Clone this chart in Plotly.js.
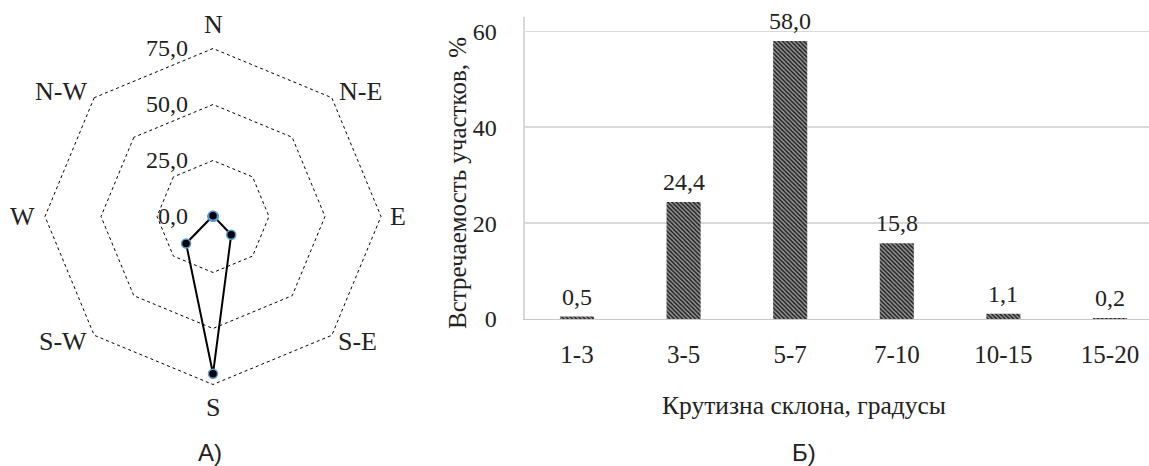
<!DOCTYPE html>
<html>
<head>
<meta charset="utf-8">
<script src="https://cdn.plot.ly/plotly-3.0.1.min.js"></script>
<style>html,body{margin:0;padding:0;background:#fff;}#chart{width:1149px;height:466px;}</style>
</head>
<body>
<div id="chart"></div>
<script>
// Radar (A): exposure directions
const directions = ["N", "N-E", "E", "S-E", "S", "S-W", "W", "N-W"];
const directionValues = [0.3, 0.2, 0.4, 11.5, 70.2, 17.0, 0.3, 0.1];
const radialTicks = [0, 25, 50, 75];

// Bar (Б): slope steepness
const slopeCategories = ["1-3", "3-5", "5-7", "7-10", "10-15", "15-20"];
const slopeValues = [0.5, 24.4, 58.0, 15.8, 1.1, 0.2];
const barTicks = [0, 20, 40, 60];

const serif = "Liberation Serif, Times New Roman, serif";
const sans = "Liberation Sans, Arial, sans-serif";
const W = 1149, H = 466;

const radarTrace = {
  type: "scatterpolar",
  r: directionValues.concat([directionValues[0]]),
  theta: directions.concat([directions[0]]),
  mode: "lines+markers",
  line: {color: "#000", width: 2},
  marker: {color: "#000", size: 9, line: {color: "#5B9BD5", width: 1.5}},
  subplot: "polar",
  showlegend: false,
  hoverinfo: "r+theta"
};

const barTrace = {
  type: "bar",
  x: slopeCategories,
  y: slopeValues,
  width: 0.32,
  xaxis: "x",
  yaxis: "y",
  marker: {
    color: "#5a5a5a",
    pattern: {shape: "\\", size: 3, solidity: 0.5, fgcolor: "#1e1e1e", bgcolor: "#9a9a9a"},
    line: {width: 0}
  },
  showlegend: false
};

// value labels above bars, built from the data arrays
const valueLabels = slopeCategories.map((c, i) => ({
  text: slopeValues[i].toFixed(1).replace(".", ","),
  xref: "x", yref: "y", x: c, y: slopeValues[i],
  xanchor: "center", yanchor: "middle", yshift: 20,
  showarrow: false,
  font: {family: serif, size: 24, color: "#222"}
}));

// polar geometry (paper fractions) and direction label placement
const polarDomX = [0.03721, 0.33355], polarDomY = [0.17009, 0.90073];
const radialMax = 76, outerRing = 75;
const cxP = (polarDomX[0] + polarDomX[1]) / 2 * W;
const cyP = (polarDomY[0] + polarDomY[1]) / 2 * H;       // from bottom
const Rpx = (polarDomX[1] - polarDomX[0]) / 2 * W * outerRing / radialMax;
// offsets of label centres from each outer vertex, in px (right, down)
const labelOffsets = [[0, -23.5], [28.7, -5.7], [16.5, 0], [26, 6.7], [0, 22.5], [-31.7, 6.7], [-22, 0], [-33, -5.7]];
const directionLabels = directions.map((d, i) => {
  const a = (90 - 45 * i) * Math.PI / 180;
  const vx = cxP + Rpx * Math.cos(a);
  const vy = cyP + Rpx * Math.sin(a);
  return {
    text: d, xref: "paper", yref: "paper", x: vx / W, y: vy / H,
    xanchor: "center", yanchor: "middle",
    xshift: labelOffsets[i][0], yshift: -labelOffsets[i][1],
    showarrow: false,
    font: {family: serif, size: 26, color: "#222"}
  };
});

const layout = {
  width: W,
  height: H,
  margin: {l: 0, r: 0, t: 0, b: 0},
  paper_bgcolor: "#fff",
  plot_bgcolor: "#fff",
  separators: ", ",
  font: {family: serif, color: "#222"},
  polar: {
    domain: {x: polarDomX, y: polarDomY},
    gridshape: "linear",
    bgcolor: "#fff",
    radialaxis: {
      range: [0, radialMax],
      tickvals: radialTicks,
      tickformat: ".1f",
      angle: 90,
      side: "counterclockwise",
      tickangle: 90,
      showline: false,
      ticks: "outside",
      ticklen: 16,
      tickcolor: "rgba(0,0,0,0)",
      gridcolor: "#000",
      gridwidth: 1,
      griddash: "dot",
      tickfont: {family: serif, size: 24, color: "#222"}
    },
    angularaxis: {
      type: "category",
      categoryarray: directions,
      direction: "clockwise",
      rotation: 90,
      showgrid: false,
      showline: false,
      showticklabels: false,
      ticks: ""
    }
  },
  xaxis: {
    domain: [0.4569, 1.0],
    anchor: "y",
    range: [-0.488, 5.366],
    type: "category",
    showgrid: false,
    showline: true,
    linecolor: "#c8c8c8",
    linewidth: 1.5,
    ticks: "",
    ticklabelstandoff: 13,
    tickfont: {family: serif, size: 25, color: "#222"}
  },
  yaxis: {
    domain: [0.3155, 0.9635],
    anchor: "x",
    range: [0, 63],
    tickvals: barTicks,
    showgrid: true,
    gridcolor: "#d9d9d9",
    gridwidth: 1.5,
    showline: true,
    linecolor: "#d9d9d9",
    linewidth: 1.5,
    zeroline: false,
    ticks: "",
    ticklabelstandoff: 22,
    tickfont: {family: serif, size: 24, color: "#222"}
  },
  annotations: valueLabels.concat(directionLabels, [
    {text: "Крутизна склона, градусы", xref: "paper", yref: "paper", x: 804/W, y: 1 - 405/H, xanchor: "center", yanchor: "middle", showarrow: false, font: {family: serif, size: 25.5, color: "#222"}},
    {text: "Встречаемость участков, %", xref: "paper", yref: "paper", x: 457/W, y: 1 - 183/H, textangle: -90, xanchor: "center", yanchor: "middle", showarrow: false, font: {family: serif, size: 25, color: "#222"}},
    {text: "А)", xref: "paper", yref: "paper", x: 210/W, y: 1 - 452/H, xanchor: "center", yanchor: "middle", showarrow: false, borderpad: 0, font: {family: sans, size: 24, color: "#222"}},
    {text: "Б)", xref: "paper", yref: "paper", x: 804/W, y: 1 - 452/H, xanchor: "center", yanchor: "middle", showarrow: false, borderpad: 0, font: {family: sans, size: 24, color: "#222"}}
  ])
};

Plotly.newPlot("chart", [radarTrace, barTrace], layout, {staticPlot: true, displayModeBar: false});
</script>
</body>
</html>
